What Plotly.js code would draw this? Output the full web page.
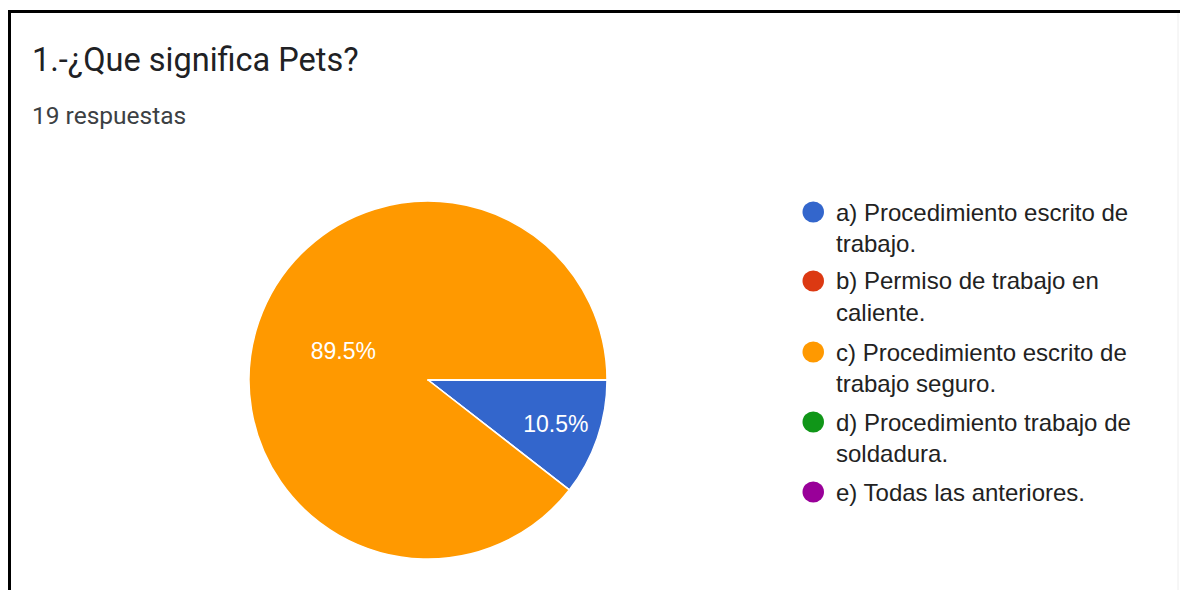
<!DOCTYPE html>
<html>
<head>
<meta charset="utf-8">
<script src="https://cdn.plot.ly/plotly-3.0.1.min.js"></script>
<style>html,body{margin:0;padding:0;background:#fff;}#chart{width:1180px;height:590px;}</style>
</head>
<body>
<div id="chart"></div>
<script>
// ---- data ----
const categories = [
  'a) Procedimiento escrito de trabajo.',
  'b) Permiso de trabajo en caliente.',
  'c) Procedimiento escrito de trabajo seguro.',
  'd) Procedimiento trabajo de soldadura.',
  'e) Todas las anteriores.'
];
const legendLines = [
  ['a) Procedimiento escrito de', 'trabajo.'],
  ['b) Permiso de trabajo en', 'caliente.'],
  ['c) Procedimiento escrito de', 'trabajo seguro.'],
  ['d) Procedimiento trabajo de', 'soldadura.'],
  ['e) Todas las anteriores.']
];
const counts = [2, 0, 17, 0, 0];
const colors = ['#3366cc', '#dc3912', '#ff9900', '#109618', '#990099'];
const titleText = '1.-¿Que significa Pets?';
const subtitleText = '19 respuestas';

// ---- layout helpers (pixel -> paper) ----
const W = 1180, H = 590;
const px = x => x / W;
const py = y => 1 - y / H;

const pieTrace = {
  type: 'pie',
  labels: categories,
  values: counts,
  marker: { colors: colors, line: { color: '#ffffff', width: 1.5 } },
  sort: false,
  direction: 'clockwise',
  rotation: 90,
  textinfo: 'percent',
  texttemplate: '%{percent:.1%}',
  textposition: 'inside',
  insidetextorientation: 'horizontal',
  insidetextfont: { family: 'Liberation Sans, Arial, sans-serif', size: 23, color: '#ffffff' },
  hoverinfo: 'label+value+percent',
  showlegend: false,
  domain: { x: [px(249), px(607)], y: [py(559), py(201)] }
};

const shapes = [
  // frame
  { type: 'line', xref: 'paper', yref: 'paper', x0: px(9.5), x1: px(9.5), y0: py(10), y1: py(590), line: { color: '#000', width: 3 } },
  { type: 'line', xref: 'paper', yref: 'paper', x0: px(8), x1: px(1180), y0: py(11.5), y1: py(11.5), line: { color: '#000', width: 3 } },
  { type: 'line', xref: 'paper', yref: 'paper', x0: px(1178), x1: px(1178), y0: py(13), y1: py(590), line: { color: '#eeeeee', width: 1 } }
];
const annotations = [
  { xref: 'paper', yref: 'paper', x: px(30), y: py(60), xanchor: 'left', yanchor: 'middle', showarrow: false,
    text: titleText, font: { family: 'Roboto, sans-serif', size: 32.5, color: '#202124' } },
  { xref: 'paper', yref: 'paper', x: px(30), y: py(115), xanchor: 'left', yanchor: 'middle', showarrow: false,
    text: subtitleText, font: { family: 'Roboto, sans-serif', size: 24.5, color: '#3c4043' } }
];

const itemY = [212, 281, 352, 422, 492];
const lineGap = 31;
legendLines.forEach((lines, i) => {
  const cy = itemY[i];
  shapes.push({ type: 'circle', xref: 'paper', yref: 'paper',
    x0: px(802.5), x1: px(824), y0: py(cy + 10.5), y1: py(cy - 10.5),
    fillcolor: colors[i], line: { width: 0 } });
  lines.forEach((t, j) => {
    annotations.push({ xref: 'paper', yref: 'paper', x: px(834), y: py(cy + j * lineGap),
      xanchor: 'left', yanchor: 'middle', showarrow: false, text: t,
      font: { family: 'Liberation Sans, Arial, sans-serif', size: 24, color: '#222222' } });
  });
});

const layout = {
  width: W, height: H,
  margin: { l: 0, r: 0, t: 0, b: 0 },
  paper_bgcolor: '#ffffff',
  showlegend: false,
  shapes: shapes,
  annotations: annotations
};

Plotly.newPlot('chart', [pieTrace], layout, { displayModeBar: false, staticPlot: true });
</script>
</body>
</html>
